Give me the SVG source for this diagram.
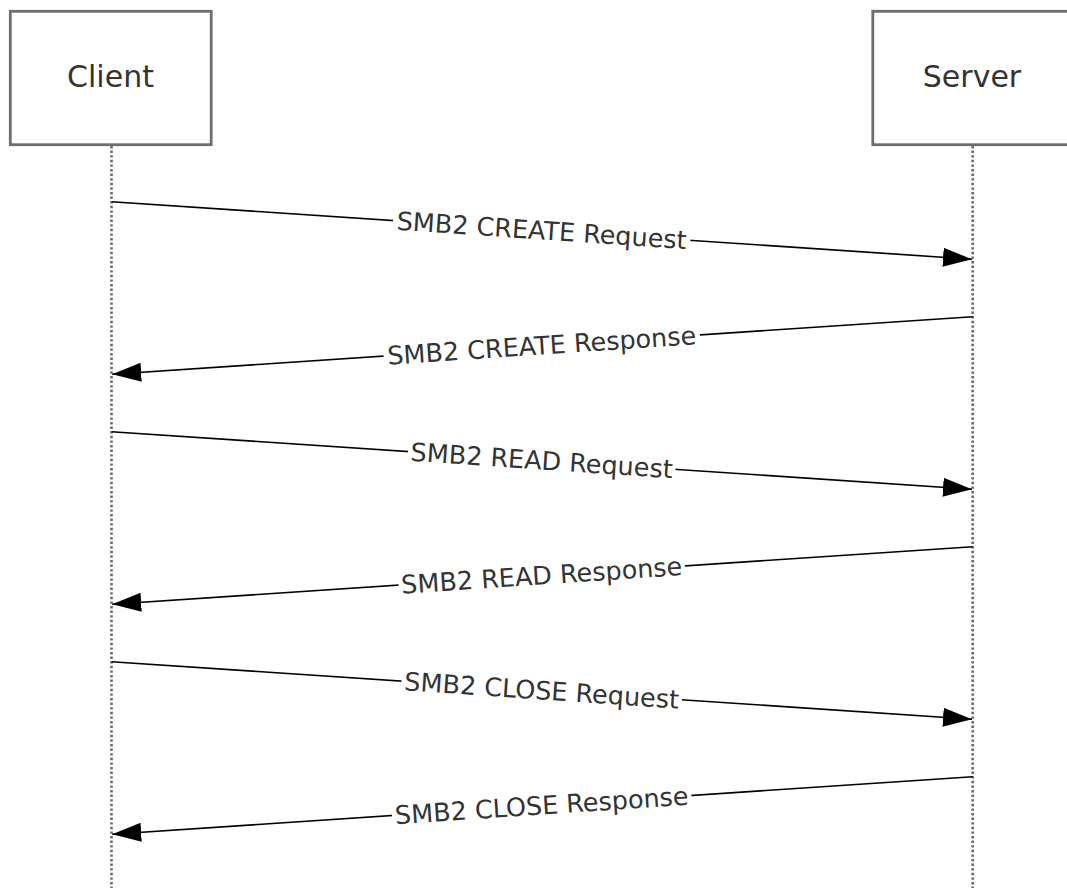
<svg xmlns="http://www.w3.org/2000/svg" width="1067" height="888" viewBox="0 0 1067 888">
<style>
.box{fill:#fff;stroke:#6e6e6e;stroke-width:2.8}
.life{stroke:#6a6a6a;stroke-width:2.6;stroke-dasharray:2.4 2.2;fill:none}
.name{font-family:"DejaVu Sans",Verdana,sans-serif;font-size:30px;fill:#333;text-anchor:middle}
.msg{stroke:#000;stroke-width:1.6;fill:none;marker-end:url(#ah)}
.lbl{font-family:"DejaVu Sans",Verdana,sans-serif;font-size:25.5px;fill:#333;text-anchor:middle}
.bg{fill:#fff}
</style>
<defs>
<marker id="ah" markerUnits="userSpaceOnUse" markerWidth="32" markerHeight="22" refX="29" refY="10" orient="auto">
<path d="M0,0.5 L29,10 L0,19.5 Z" fill="#000"/>
</marker>
</defs>
<rect width="1067" height="888" fill="#fff"/>
<g id="client">
<rect class="box" x="10.3" y="11.3" width="200.9" height="133.4"/>
<text class="name" x="110.5" y="87">Client</text>
<line class="life" x1="111.5" y1="146" x2="111.5" y2="888"/>
</g>
<g id="server">
<rect class="box" x="872.8" y="11.3" width="200.9" height="133.4"/>
<text class="name" x="972" y="87">Server</text>
<line class="life" x1="972.7" y1="146" x2="972.7" y2="888"/>
</g>
<g id="connectors">
<g id="m1">
<line class="msg" x1="111.5" y1="201.7" x2="972" y2="259.2"/>
<g transform="translate(541.7,230.45) rotate(3.82)"><rect class="bg" x="-149" y="-13" width="298" height="26"/><text class="lbl" x="0" y="9">SMB2 CREATE Request</text></g>
</g>
<g id="m2">
<line class="msg" x1="972.7" y1="316.7" x2="112.2" y2="374.2"/>
<g transform="translate(541.7,345.45) rotate(-3.82)"><rect class="bg" x="-158.5" y="-13" width="317" height="26"/><text class="lbl" x="0" y="9">SMB2 CREATE Response</text></g>
</g>
<g id="m3">
<line class="msg" x1="111.5" y1="431.7" x2="972" y2="489.2"/>
<g transform="translate(541.7,460.45) rotate(3.82)"><rect class="bg" x="-134" y="-13" width="268" height="26"/><text class="lbl" x="0" y="9">SMB2 READ Request</text></g>
</g>
<g id="m4">
<line class="msg" x1="972.7" y1="546.7" x2="112.2" y2="604.2"/>
<g transform="translate(541.7,575.45) rotate(-3.82)"><rect class="bg" x="-143.5" y="-13" width="287" height="26"/><text class="lbl" x="0" y="9">SMB2 READ Response</text></g>
</g>
<g id="m5">
<line class="msg" x1="111.5" y1="661.7" x2="972" y2="719.2"/>
<g transform="translate(541.7,690.45) rotate(3.82)"><rect class="bg" x="-140.5" y="-13" width="281" height="26"/><text class="lbl" x="0" y="9">SMB2 CLOSE Request</text></g>
</g>
<g id="m6">
<line class="msg" x1="972.7" y1="776.7" x2="112.2" y2="834.2"/>
<g transform="translate(541.7,805.45) rotate(-3.82)"><rect class="bg" x="-150" y="-13" width="300" height="26"/><text class="lbl" x="0" y="9">SMB2 CLOSE Response</text></g>
</g>
</g>
</svg>
